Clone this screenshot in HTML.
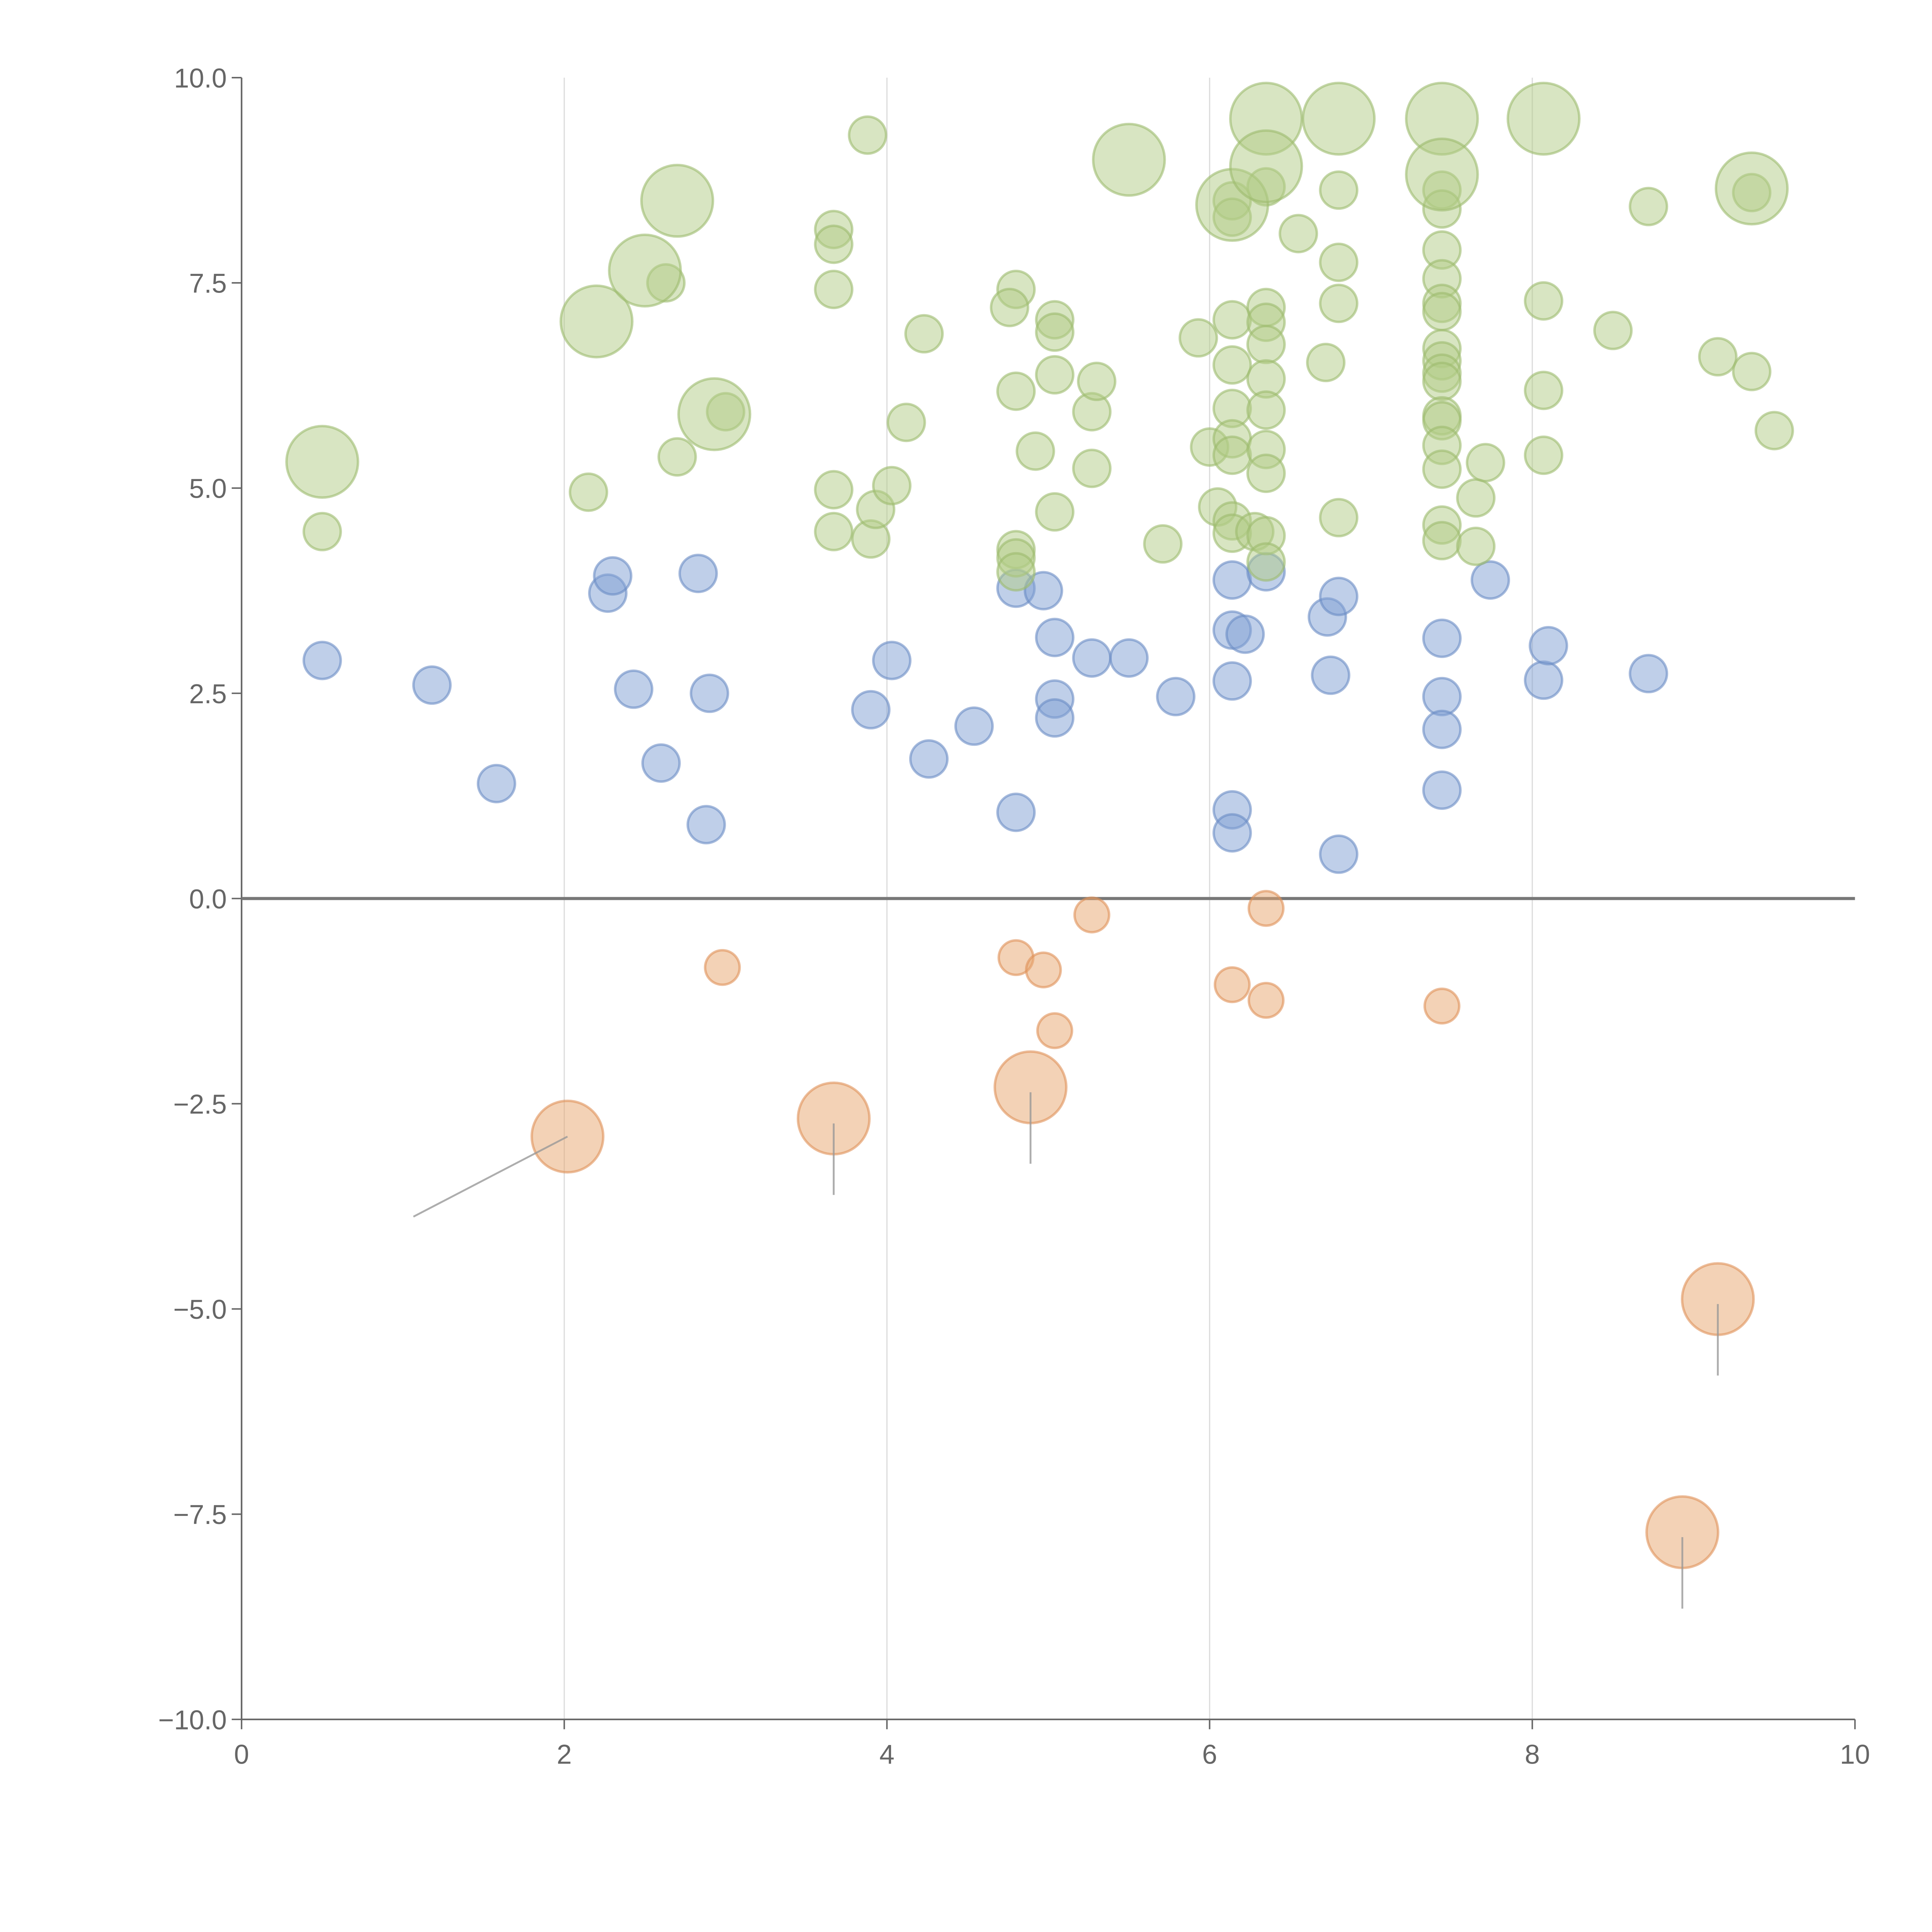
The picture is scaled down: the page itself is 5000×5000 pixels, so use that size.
<!DOCTYPE html>
<html><head><meta charset="utf-8"><style>
html,body{margin:0;padding:0;background:#fff;}
svg{display:block;}
text{font-family:"Liberation Sans",sans-serif;fill:#666;}
</style></head><body>
<svg id="chart" width="5000" height="5000" viewBox="0 0 1567.5 1567.5" xmlns="http://www.w3.org/2000/svg">
<g id="grid"></g>
<g id="axes"></g>
<g id="marks"></g>
</svg>
<script>
const xTicks=[0,2,4,6,8,10];
const yTicks=[10,7.5,5,2.5,0,-2.5,-5,-7.5,-10];
const yTickLabels=["10.0","7.5","5.0","2.5","0.0","\u22122.5","\u22125.0","\u22127.5","\u221210.0"];
const blueX=[0.5,1.18,1.58,2.27,2.3,2.43,2.6,2.83,2.9,2.88,3.9,4.03,4.26,4.54,4.8,4.8,4.97,5.04,5.04,5.04,5.27,5.5,5.79,6.14,6.14,6.22,6.14,6.14,6.14,6.35,6.73,6.75,6.8,6.8,7.44,7.44,7.44,7.44,7.74,8.07,8.1,8.72];
const blueY=[2.9,2.6,1.4,3.72,3.93,2.55,1.65,3.96,2.5,0.9,2.3,2.9,1.7,2.1,1.05,3.78,3.75,3.18,2.43,2.2,2.93,2.93,2.46,3.88,3.27,3.22,2.65,1.08,0.8,3.98,3.43,2.72,3.68,0.54,3.17,2.46,2.06,1.32,3.88,2.66,3.08,2.74];
const orangeX=[2.98,4.8,4.97,5.04,5.27,6.14,6.35,6.35,7.44];
const orangeY=[-0.84,-0.72,-0.87,-1.61,-0.2,-1.05,-0.12,-1.24,-1.31];
const orangeBigX=[2.02,3.67,4.89,9.15,8.93];
const orangeBigY=[-2.9,-2.68,-2.3,-4.88,-7.72];
const greenX=[0.5,2.15,2.63,2.7,3.0,3.67,3.67,3.67,3.67,3.67,3.88,3.9,3.93,4.03,4.12,4.23,4.8,4.76,4.8,4.8,4.8,4.8,4.92,5.04,5.04,5.04,5.04,5.27,5.27,5.3,5.71,5.93,6.0,6.05,6.14,6.14,6.14,6.14,6.14,6.14,6.14,6.14,6.14,6.28,6.35,6.35,6.35,6.35,6.35,6.35,6.35,6.35,6.35,6.35,6.55,6.72,6.8,6.8,6.8,6.8,7.44,7.44,7.44,7.44,7.44,7.44,7.44,7.44,7.44,7.44,7.44,7.44,7.44,7.44,7.44,7.44,7.65,7.65,7.71,8.07,8.07,8.07,8.5,8.72,9.15,9.36,9.36,9.5];
const greenY=[4.47,4.95,7.5,5.38,5.93,8.15,7.97,7.42,4.98,4.47,9.3,4.38,4.74,5.03,5.8,6.88,7.42,7.2,6.18,4.25,4.15,3.98,5.45,7.05,6.9,6.38,4.71,5.93,5.24,6.3,4.32,6.83,5.5,4.77,8.5,8.3,7.05,6.5,5.97,5.6,5.4,4.6,4.45,4.47,8.67,7.2,7.02,6.75,6.33,5.95,5.47,5.18,4.42,4.1,8.1,6.53,8.63,7.75,7.25,4.64,8.63,8.4,7.9,7.55,7.25,7.15,6.7,6.55,6.4,6.3,5.88,5.82,5.52,5.23,4.55,4.36,4.88,4.29,5.31,7.28,6.19,5.4,6.92,8.43,6.6,6.42,8.6,5.7];
const greenBigX=[0.5,2.2,2.5,2.7,2.93,5.5,6.14,6.35,6.35,6.8,7.44,7.44,8.07,9.36];
const greenBigY=[5.32,7.03,7.65,8.5,5.9,9.0,8.45,9.5,8.92,9.5,9.5,8.82,9.5,8.65];

const X0=196,X1=1505,Y0=1395,Y1=63;
const sx=v=>X0+(v-0)/(10-0)*(X1-X0);
const sy=v=>Y0-(v+10)/20*(Y0-Y1);
const NS="http://www.w3.org/2000/svg";
function mk(tag,attrs,parent){const e=document.createElementNS(NS,tag);for(const k in attrs)e.setAttribute(k,attrs[k]);parent.appendChild(e);return e;}
const grid=document.getElementById('grid'),axes=document.getElementById('axes'),marks=document.getElementById('marks');

xTicks.forEach(t=>{
  if(t>0&&t<10){const g=mk('line',{x1:sx(t),x2:sx(t),y1:Y1,y2:Y0,stroke:'#ddd','stroke-width':1},grid);
  
  }
  const tk=mk('line',{x1:sx(t),x2:sx(t),y1:Y0,y2:Y0+8,stroke:'#666','stroke-width':1.2},axes);
  
  
  const lb=mk('text',{x:sx(t),y:Y0+36,'text-anchor':'middle','font-size':22},axes);
  lb.textContent=t;
  
  
});
yTicks.forEach((t,i)=>{
  const tk=mk('line',{x1:X0-8,x2:X0,y1:sy(t),y2:sy(t),stroke:'#666','stroke-width':1.2},axes);
  
  
  const lb=mk('text',{x:X0-12,y:sy(t)+8,'text-anchor':'end','font-size':22},axes);
  lb.textContent=yTickLabels[i];
  
  
});
const ya=mk('line',{x1:X0,x2:X0,y1:Y1,y2:Y0,stroke:'#666','stroke-width':1.3},axes);


const xa=mk('line',{x1:X0,x2:X1,y1:Y0,y2:Y0,stroke:'#666','stroke-width':1.3},axes);


const zl=mk('line',{x1:X0,x2:X1,y1:sy(0),y2:sy(0),stroke:'#777','stroke-width':2.5},axes);



function dots(xs,ys,r,fill,stroke,name){
  xs.forEach((x,i)=>{
    const c=mk('circle',{cx:sx(x),cy:sy(ys[i]),r:r,fill:fill,'fill-opacity':0.5,stroke:stroke,'stroke-opacity':0.6,'stroke-width':2},marks);
    
    
  });
}
dots(blueX,blueY,15,'#7f9fd3','#6a8cc4','bubble-blue');
dots(greenX,greenY,15,'#b2cc85','#9dbb6e','bubble-green');
dots(greenBigX,greenBigY,29,'#b2cc85','#9dbb6e','bubble-green-large');
dots(orangeX,orangeY,14,'#e8a56e','#df9158','bubble-orange');
dots(orangeBigX,orangeBigY,29,'#e8a56e','#df9158','bubble-orange-large');
orangeBigX.forEach((x,i)=>{
  let l;
  if(i===0){l=mk('line',{x1:sx(x),y1:sy(orangeBigY[i]),x2:sx(x)-125,y2:sy(orangeBigY[i])+65,stroke:'#999','stroke-width':1.5,'stroke-opacity':0.8},marks);}
  else{l=mk('line',{x1:sx(x),y1:sy(orangeBigY[i])+4,x2:sx(x),y2:sy(orangeBigY[i])+62,stroke:'#999','stroke-width':1.5,'stroke-opacity':0.8},marks);}
  
  
});
</script>
</body></html>
